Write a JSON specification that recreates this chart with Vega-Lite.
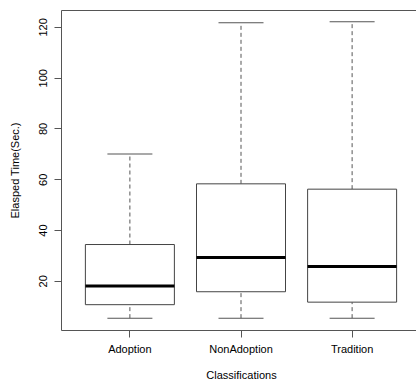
{
  "$schema": "https://vega.github.io/schema/vega-lite/v6.json",
  "autosize": "none",
  "width": 356,
  "height": 320,
  "padding": {"left": 61, "top": 10, "right": 0, "bottom": 53},
  "background": "white",
  "config": {
    "font": "Liberation Sans",
    "view": {"stroke": "#555555", "strokeWidth": 1},
    "axis": {
      "labelFont": "Liberation Sans",
      "titleFont": "Liberation Sans",
      "labelFontSize": 11,
      "titleFontSize": 11,
      "titleFontWeight": "normal",
      "labelColor": "#000000",
      "titleColor": "#000000",
      "tickColor": "#555555",
      "tickSize": 7,
      "domain": false,
      "grid": false
    }
  },
  "data": {
    "values": [
      {"Classification": "Adoption", "lower": 5.3, "q1": 10.6, "median": 18.0, "q3": 34.3, "upper": 70.0},
      {"Classification": "NonAdoption", "lower": 5.3, "q1": 15.7, "median": 29.2, "q3": 58.2, "upper": 121.6},
      {"Classification": "Tradition", "lower": 5.3, "q1": 11.6, "median": 25.6, "q3": 56.1, "upper": 122.0}
    ]
  },
  "encoding": {
    "x": {
      "field": "Classification",
      "type": "nominal",
      "sort": null,
      "scale": {"paddingInner": 0, "paddingOuter": 0.12, "rangeMax": 360},
      "axis": {"title": "Classifications", "labelAngle": 0, "labelPadding": 6, "titlePadding": 15}
    }
  },
  "layer": [
    {
      "mark": {"type": "rule", "strokeDash": [4, 3], "color": "#555555", "strokeWidth": 1},
      "encoding": {
        "y": {"field": "lower", "type": "quantitative", "scale": {"domain": [0.63, 126.67], "nice": false, "zero": false},
          "axis": {"title": "Elasped Time(Sec.)", "values": [20, 40, 60, 80, 100, 120], "labelAngle": -90, "labelAlign": "center", "labelBaseline": "bottom", "labelPadding": 6, "titlePadding": 17}},
        "y2": {"field": "q1"}
      }
    },
    {
      "mark": {"type": "rule", "strokeDash": [4, 3], "color": "#555555", "strokeWidth": 1},
      "encoding": {
        "y": {"field": "q3", "type": "quantitative"},
        "y2": {"field": "upper"}
      }
    },
    {
      "mark": {"type": "tick", "size": 45, "thickness": 1, "color": "#555555", "opacity": 1},
      "encoding": {"y": {"field": "lower", "type": "quantitative"}}
    },
    {
      "mark": {"type": "tick", "size": 45, "thickness": 1, "color": "#555555", "opacity": 1},
      "encoding": {"y": {"field": "upper", "type": "quantitative"}}
    },
    {
      "mark": {"type": "bar", "size": 89, "fill": "white", "stroke": "#444444", "strokeWidth": 1},
      "encoding": {
        "y": {"field": "q1", "type": "quantitative"},
        "y2": {"field": "q3"}
      }
    },
    {
      "mark": {"type": "tick", "size": 89, "thickness": 3, "color": "#000000", "opacity": 1},
      "encoding": {"y": {"field": "median", "type": "quantitative"}}
    }
  ]
}
